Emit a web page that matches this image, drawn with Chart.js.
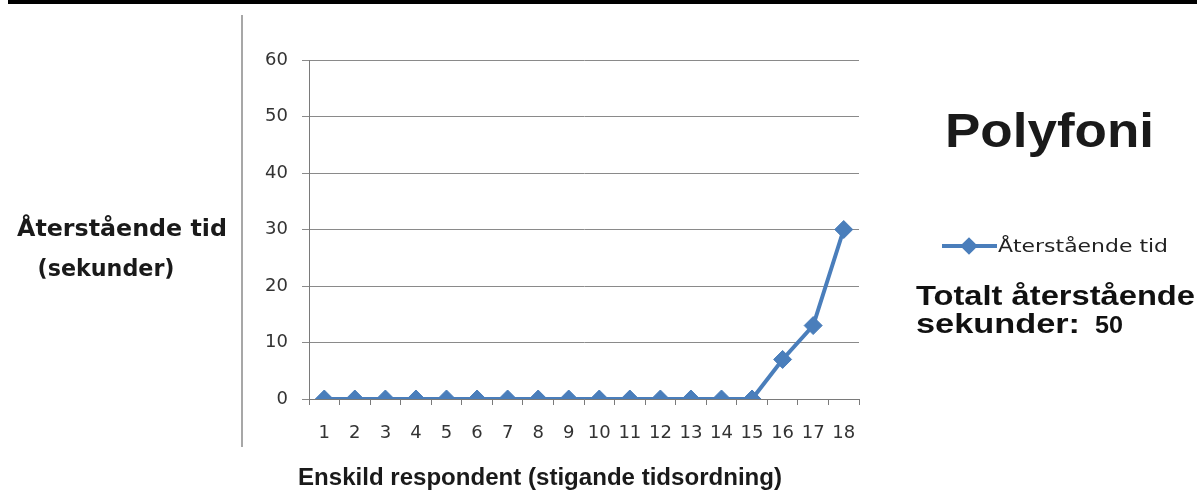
<!DOCTYPE html>
<html>
<head>
<meta charset="utf-8">
<script src="https://cdn.jsdelivr.net/npm/chart.js@4/dist/chart.umd.min.js"></script>
<style>
  html, body { margin: 0; padding: 0; background: #fff; }
  #wrap { width: 1197px; height: 490px; position: relative; }
</style>
</head>
<body>
<div id="wrap"><canvas id="polyChart"></canvas></div>
<script>
// data
const respondents = ['1', '2', '3', '4', '5', '6', '7', '8', '9', '10', '11', '12', '13', '14', '15', '16', '17', '18'];
const remaining = [0, 0, 0, 0, 0, 0, 0, 0, 0, 0, 0, 0, 0, 0, 0, 7, 13, 30];
const yTicks = [0, 10, 20, 30, 40, 50, 60];
const seriesName = 'Återstående tid';
const totalRemaining = 50;

const lineColor = '#4a7ebb';

// draw text squeezed/stretched to a given width (the picture is stretched sideways)
function fitText(ctx, text, x, y, font, width, align) {
    ctx.save();
    ctx.font = font;
    const w = ctx.measureText(text).width;
    const s = width / w;
    ctx.translate(x, y);
    ctx.scale(s, 1);
    ctx.textAlign = align || 'left';
    ctx.textBaseline = 'alphabetic';
    ctx.fillText(text, 0, 0);
    ctx.restore();
}

const decorations = {
    id: 'decorations',
    beforeDraw(chart) {
        const ctx = chart.ctx;
        ctx.save();
        ctx.fillStyle = '#fff';
        ctx.fillRect(0, 0, chart.width, chart.height);
        // black strip on top
        ctx.fillStyle = '#000';
        ctx.fillRect(8, 0, chart.width - 8, 4);
        // vertical separator line
        ctx.strokeStyle = '#8a8a8a';
        ctx.lineWidth = 1.5;
        ctx.beginPath();
        ctx.moveTo(242, 15);
        ctx.lineTo(242, 447);
        ctx.stroke();
        ctx.restore();
    },
    afterDraw(chart) {
        const ctx = chart.ctx;
        ctx.save();
        ctx.fillStyle = '#1a1a1a';
        // axis titles
        fitText(ctx, 'Återstående tid', 122, 236, 'bold 23px "DejaVu Sans"', 210, 'center');
        fitText(ctx, '(sekunder)', 106, 276, 'bold 23px "DejaVu Sans"', 137, 'center');
        fitText(ctx, 'Enskild respondent (stigande tidsordning)', 540, 485,
            'bold 23px "Liberation Sans"', 484, 'center');
        // big title
        fitText(ctx, 'Polyfoni', 945, 147, 'bold 48px "Liberation Sans"', 209, 'left');

        // legend entry, styled from the dataset
        const ds = chart.data.datasets[0];
        const ly = 246;
        ctx.strokeStyle = ds.borderColor;
        ctx.lineWidth = ds.borderWidth;
        ctx.beginPath();
        ctx.moveTo(942, ly);
        ctx.lineTo(997, ly);
        ctx.stroke();
        ctx.fillStyle = ds.backgroundColor;
        Chart.helpers.drawPoint(ctx, { pointStyle: 'rectRot', radius: 6, borderWidth: 1 }, 969, ly);
        ctx.fill();
        ctx.fillStyle = '#222';
        fitText(ctx, ds.label, 998, 252, '17px "DejaVu Sans"', 170, 'left');

        // total text
        ctx.fillStyle = '#111';
        fitText(ctx, 'Totalt återstående', 916, 305, 'bold 27px "Liberation Sans"', 279, 'left');
        fitText(ctx, 'sekunder:', 916, 333, 'bold 27px "Liberation Sans"', 164, 'left');
        fitText(ctx, String(totalRemaining), 1095, 333, 'bold 23px "Liberation Sans"', 28, 'left');
        ctx.restore();
    }
};

const ctx = document.getElementById('polyChart').getContext('2d');
const polyChart = new Chart(ctx, {
    type: 'line',
    data: {
        labels: respondents,
        datasets: [{
            label: seriesName,
            data: remaining,
            borderColor: lineColor,
            backgroundColor: lineColor,
            borderWidth: 4,
            pointStyle: 'rectRot',
            pointRadius: 9,
            pointBorderWidth: 1,
            pointBackgroundColor: lineColor,
            pointBorderColor: lineColor,
            tension: 0
        }]
    },
    options: {
        responsive: true,
        maintainAspectRatio: false,
        animation: false,
        layout: {
            padding: { left: 244, right: 338, top: 60, bottom: 50 }
        },
        scales: {
            x: {
                offset: true,
                grid: {
                    offset: true,
                    drawOnChartArea: false,
                    drawTicks: true,
                    tickLength: 6,
                    color: '#7a7a7a'
                },
                border: { color: '#7a7a7a', width: 1 },
                ticks: {
                    color: '#333',
                    font: { family: 'DejaVu Sans', size: 18 },
                    padding: 18,
                    maxRotation: 0,
                    autoSkip: false
                },
                afterFit(scale) { scale.height = 41; }
            },
            y: {
                min: 0,
                max: 60,
                afterBuildTicks(scale) {
                    scale.ticks = yTicks.map(v => ({ value: v }));
                },
                grid: {
                    color: '#8a8a8a',
                    lineWidth: 1,
                    tickLength: 7
                },
                border: { color: '#7a7a7a', width: 1 },
                ticks: {
                    color: '#333',
                    font: { family: 'DejaVu Sans', size: 18 },
                    padding: 14
                },
                afterFit(scale) { scale.width = 65; }
            }
        },
        plugins: {
            legend: { display: false },
            tooltip: { enabled: false }
        }
    },
    plugins: [decorations]
});
</script>
</body>
</html>
